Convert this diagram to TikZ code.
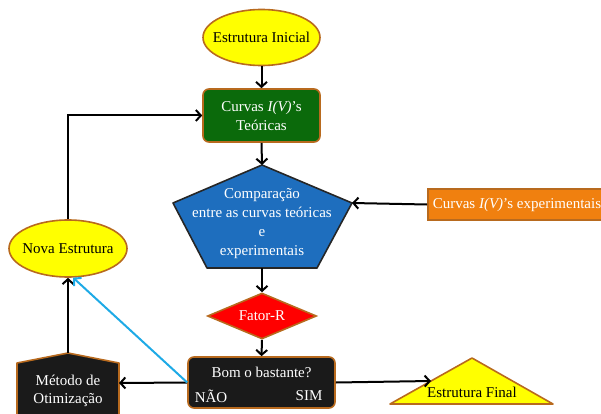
\documentclass[tikz,border=0pt]{standalone}
\usepackage{fontspec}
\setmainfont{Liberation Serif}
\usetikzlibrary{shapes.geometric,arrows.meta}

\definecolor{ybox}{HTML}{FFFF00}
\definecolor{brownedge}{HTML}{B86A1E}
\definecolor{gbox}{HTML}{0B6A0B}
\definecolor{bbox}{HTML}{1E6EBE}
\definecolor{obox}{HTML}{F0800F}
\definecolor{rbox}{HTML}{FF0000}
\definecolor{kbox}{HTML}{1A1A1A}
\definecolor{cyanline}{HTML}{1EAAE6}

\tikzset{
  every node/.style={font=\fontsize{15}{19}\selectfont, align=center},
  ellbox/.style={ellipse, draw=brownedge, fill=ybox, line width=1.6pt, inner sep=0pt},
  rbox/.style={rectangle, rounded corners=6pt, draw=brownedge, line width=1.6pt, text=white, inner sep=0pt},
  flow/.style={line width=2pt, -{Straight Barb[length=5pt,width=11pt,line width=2pt]}},
  edge/.style={line width=1.6pt, line join=round},
}
% centred text of zero width, so the shape keeps its given size
\newcommand{\zerowidth}[1]{\makebox[0pt][c]{#1}}

\begin{document}
\begin{tikzpicture}[x=1pt,y=-1pt]
\useasboundingbox (0,0) rectangle (601,414);
\clip (0,0) rectangle (601,414);

% start ellipse
\node[ellbox, minimum width=117pt, minimum height=56pt] (ini) at (261.5,37.5) {\zerowidth{Estrutura Inicial}};

% theoretical curves box
\node[rbox, fill=gbox, minimum width=117pt, minimum height=53pt] (teo) at (261.5,115.5)
  {Curvas \textit{I(V)}'s\\Teóricas};

% comparison pentagon
\coordinate (pt) at (262,165);
\coordinate (pl) at (173,203);
\coordinate (pr) at (352,203);
\coordinate (pbl) at (207,268);
\coordinate (pbr) at (317,268);
\coordinate (pb) at (262,268);
\draw[edge, fill=bbox, draw=black!85] (pt) -- (pr) -- (pbr) -- (pbl) -- (pl) -- cycle;
\node[text=white] (cmp) at (262,224)
  {Comparação\\entre as curvas teóricas\\e\\experimentais};

% experimental curves box
\node[rectangle, draw=brownedge, fill=obox, line width=1.6pt, text=white, anchor=west,
      minimum height=31pt, inner xsep=5pt] (exp) at (427,204.5)
  {Curvas \textit{I(V)}'s experimentais};

% R-factor diamond
\node[diamond, draw=brownedge, fill=rbox, line width=1.6pt, text=white, inner sep=0pt,
      aspect=2.4, minimum width=109pt, minimum height=46pt] (fat) at (262,316) {\zerowidth{Fator-R}};

% decision box
\node[rbox, fill=kbox, minimum width=147pt, minimum height=51pt] (bom) at (261.5,382.5) {};
\node[text=white] (bomt) at (261.5,372) {Bom o bastante?};
\node[text=white] (nao) at (211,396) {NÃO};
\node[text=white] (sim) at (309,396) {SIM};

% final structure triangle
\coordinate (ta) at (472,358);
\coordinate (tl) at (390,404);
\coordinate (tr) at (553,404);
\draw[edge, fill=ybox, draw=brownedge] (ta) -- (tr) -- (tl) -- cycle;
\node (fin) at (472,392) {Estrutura Final};
\coordinate (tin) at (431,381);

% optimisation method
\coordinate (ma) at (68,353);
\coordinate (ml) at (17,363);
\coordinate (mr) at (119,363);
\draw[edge, fill=kbox, draw=brownedge] (ml) -- (ma) -- (mr) -- (119,420) -- (17,420) -- cycle;
\node[text=white, font=\fontsize{15}{18}\selectfont] (met) at (68,391) {Método de\\Otimização};
\coordinate (mre) at (119,383);

% new structure ellipse
\node[ellbox, minimum width=118pt, minimum height=57pt] (nova) at (68,248.5) {\zerowidth{Nova Estrutura}};

% connectors
\draw[flow] (ini.south) -- (teo.north);
\draw[flow] (teo.south) -- (pt);
\draw[flow] (exp.west) -- (pr);
\draw[flow] (pb) -- (fat.north);
\draw[flow] (fat.south) -- (bom.north);
\draw[flow] (bom.east) -- (tin);
\draw[flow] (bom.west) -- (mre);
\draw[flow] (ma) -- (nova.south);
\draw[flow] (nova.north) |- (teo.west);
\draw[flow, cyanline] (bom.west) -- (nova.-80);
\end{tikzpicture}
\end{document}
